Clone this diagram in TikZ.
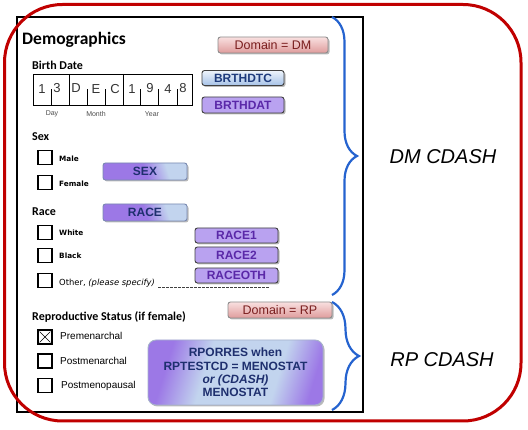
\documentclass[tikz,border=0pt]{standalone}
\usepackage{fontspec}
\setmainfont{Liberation Sans}
\newfontfamily\calfont{Carlito}
\newfontfamily\tahfont{DejaVu Sans}
\usetikzlibrary{shadows,decorations.pathreplacing}

\definecolor{redline}{HTML}{C00000}
\definecolor{bluebrace}{HTML}{2563CF}
\definecolor{pinktop}{HTML}{F9E0E0}
\definecolor{pinkbot}{HTML}{DF9C9C}
\definecolor{pinktext}{HTML}{7A1E1E}
\definecolor{bluetop}{HTML}{EEF4FB}
\definecolor{bluebot}{HTML}{A6C2E8}
\definecolor{bluetext}{HTML}{1F3B7C}
\definecolor{purfill}{HTML}{B9A2F0}
\definecolor{purtext}{HTML}{5A28A8}
\definecolor{purdeep}{HTML}{9C78E6}
\definecolor{paleblue}{HTML}{C2D4EE}
\definecolor{navytext}{HTML}{1E2F6E}

\pgfdeclarehorizontalshading{purpleblue}{100bp}{color(0bp)=(purdeep); color(50bp)=(purdeep); color(66bp)=(paleblue); color(100bp)=(paleblue)}
\pgfdeclarehorizontalshading{bigbox}{100bp}{color(0bp)=(purdeep); color(27bp)=(purdeep); color(40bp)=(paleblue); color(64bp)=(paleblue); color(76bp)=(purdeep); color(100bp)=(purdeep)}

\begin{document}
\begin{tikzpicture}[x=1pt,y=-1pt,
	badge/.style={draw=black!75,line width=0.9pt,rounded corners=2.5pt,inner sep=0pt,minimum height=15pt,
		font=\bfseries\fontsize{12}{12}\selectfont,
		drop shadow={shadow xshift=1.5pt,shadow yshift=-1.5pt,fill=black!45,opacity=0.6}},
	dombadge/.style={badge,draw=black!45,top color=pinktop,bottom color=pinkbot,text=pinktext,font=\fontsize{12.5}{12.5}\selectfont},
	dtcbadge/.style={badge,top color=bluetop,bottom color=bluebot,text=bluetext},
	purbadge/.style={badge,fill=purfill,text=purtext},
	mixbadge/.style={badge,draw=bluetext!60,shading=purpleblue,shading angle=18,text=navytext},
	bigbadge/.style={badge,draw=bluetext!40,rounded corners=8pt,shading=bigbox,shading angle=-17,align=center,
		text=navytext,font=\bfseries\fontsize{12}{13.3}\selectfont},
	head/.style={font=\calfont\bfseries\fontsize{12}{14}\selectfont,anchor=west,inner sep=0pt},
	opt/.style={font=\tahfont\bfseries\fontsize{7.3}{9}\selectfont,anchor=west,inner sep=0pt},
	rep/.style={font=\fontsize{10}{12}\selectfont,anchor=west,inner sep=0pt},
	digit/.style={font=\fontsize{13}{14}\selectfont,text=black!80,inner sep=0pt},
	small/.style={font=\fontsize{7}{8}\selectfont,text=black!70,inner sep=0pt},
	box/.style={draw,line width=1.6pt,minimum size=14pt,inner sep=0pt},
	cdash/.style={font=\itshape\fontsize{20}{24}\selectfont}]
	\useasboundingbox (0,0) rectangle (528,430);

	% the form
	\draw[line width=1.6pt] (17,17) rectangle (363,412);
	\node[head,font=\calfont\bfseries\fontsize{17.5}{20}\selectfont] (demo) at (22,40) {Demographics};

	\node[head] (birth) at (32,65) {Birth Date};
	\draw[line width=0.6pt] (33,74) rectangle (192,105);
	\draw[line width=0.6pt] (69,74) -- (69,105);
	\draw[line width=0.6pt] (123,74) -- (123,105);
	\draw[line width=0.5pt] (51,105) -- (51,89);
	\draw[line width=0.5pt] (87,105) -- (87,89);
	\draw[line width=0.5pt] (105,105) -- (105,89);
	\draw[line width=0.5pt] (140,105) -- (140,89);
	\draw[line width=0.5pt] (158,105) -- (158,89);
	\draw[line width=0.5pt] (177,105) -- (177,89);
	\node[digit] (d1) at (42,89) {1};
	\node[digit] (d2) at (57,88) {3};
	\node[digit] (m1) at (76,88) {D};
	\node[digit] (m2) at (96,89) {E};
	\node[digit] (m3) at (115,89) {C};
	\node[digit] (y1) at (132,89) {1};
	\node[digit] (y2) at (150,88) {9};
	\node[digit] (y3) at (168,89) {4};
	\node[digit] (y4) at (183,88) {8};
	\node[small] (day) at (52,114) {Day};
	\node[small] (month) at (96,114) {Month};
	\node[small] (year) at (152,114) {Year};

	\node[head] (sex) at (32,137) {Sex};
	\node[box] (male) at (45,157.5) {};
	\node[opt] (malelbl) at (59,159) {Male};
	\node[box] (female) at (45,182.5) {};
	\node[opt] (femalelbl) at (59,184) {Female};

	\node[head] (race) at (32,212) {Race};
	\node[box] (white) at (45,232.5) {};
	\node[opt] (whitelbl) at (59,233) {White};
	\node[box] (black) at (45,255.5) {};
	\node[opt] (blacklbl) at (59,256) {Black};
	\node[box] (other) at (45,280.5) {};
	\node[opt,font=\tahfont\fontsize{8.4}{10}\selectfont] (otherlbl) at (59,283) {Other, \textit{(please specify)}};
	\draw[line width=0.7pt,black!75,dash pattern=on 3pt off 1pt] (158,287) -- (270,287);

	\node[head] (repro) at (32,317) {Reproductive Status (if female)};
	\node[box] (prem) at (45,337) {};
	\draw[line width=0.6pt] ([xshift=2.5pt,yshift=-2.5pt]prem.north west) -- ([xshift=-2.5pt,yshift=2.5pt]prem.south east);
	\draw[line width=0.6pt] ([xshift=2.5pt,yshift=2.5pt]prem.south west) -- ([xshift=-2.5pt,yshift=-2.5pt]prem.north east);
	\node[rep] (premlbl) at (60,336) {Premenarchal};
	\node[box] (postm) at (45,361) {};
	\node[rep] (postmlbl) at (60,361) {Postmenarchal};
	\node[box] (postp) at (45,385.5) {};
	\node[rep] (postplbl) at (61,386) {Postmenopausal};

	% the variables
	\node[dombadge,minimum width=110pt,minimum height=16pt] (dmdom) at (273,45) {Domain = DM};
	\node[dtcbadge,minimum width=82pt] (brthdtc) at (243,78) {BRTHDTC};
	\node[purbadge,minimum width=82pt,minimum height=16pt] (brthdat) at (243,105) {BRTHDAT};
	\node[mixbadge,minimum width=84pt,minimum height=17pt] (sexvar) at (145,171.5) {SEX};
	\node[mixbadge,minimum width=84pt,minimum height=17pt] (racevar) at (145,212.5) {RACE};
	\node[purbadge,minimum width=83pt] (race1) at (236.5,235.5) {RACE1};
	\node[purbadge,minimum width=83pt,minimum height=16pt] (race2) at (236.5,255) {RACE2};
	\node[purbadge,minimum width=83pt] (raceoth) at (236.5,275.5) {RACEOTH};
	\node[dombadge,minimum width=104pt,minimum height=16pt] (rpdom) at (280,310) {Domain = RP};
	\node[bigbadge,minimum width=175pt,minimum height=65pt] (rporres) at (235.5,372.5)
		{RPORRES when\\RPTESTCD = MENOSTAT\\\textit{or (CDASH)}\\MENOSTAT};

	% braces
	\draw[bluebrace,line width=2.2pt,decorate,decoration={brace,amplitude=25pt}] (332,17) -- (332,295);
	\draw[bluebrace,line width=2.2pt,decorate,decoration={brace,amplitude=27pt}] (332,302) -- (332,410);
	\node[cdash] (dmcdash) at (443,157) {DM CDASH};
	\node[cdash] (rpcdash) at (442,360) {RP CDASH};

	% outer frame
	\draw[redline,line width=3pt,rounded corners=58pt] (4.5,4.5) rectangle (521,421);
\end{tikzpicture}
\end{document}
